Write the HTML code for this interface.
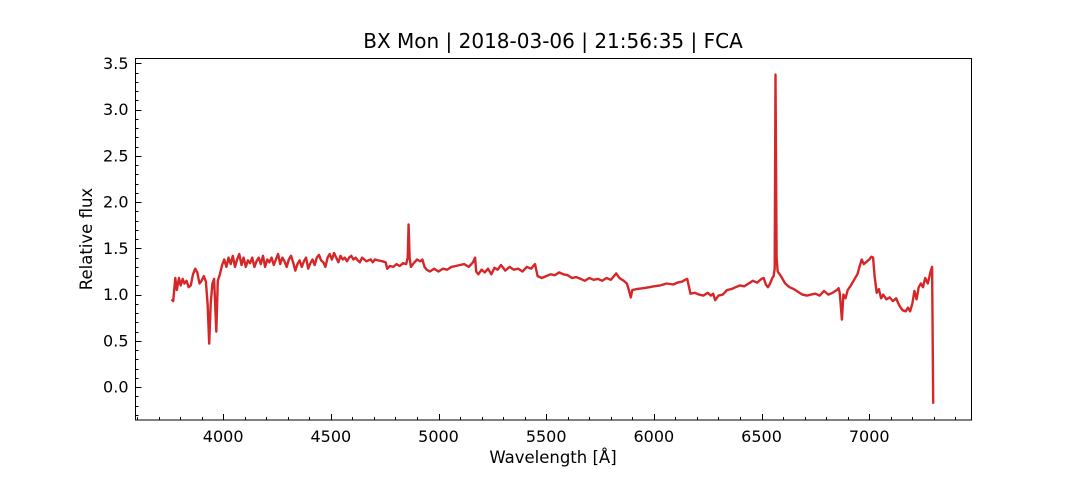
<!DOCTYPE html>
<html><head><meta charset="utf-8"><style>
body{margin:0;background:#fff;}
svg text{font-family:"DejaVu Sans","Liberation Sans",sans-serif;fill:#000;}
</style></head><body>
<svg id="chart" width="1080" height="480" xmlns="http://www.w3.org/2000/svg">
<text x="553" y="48" font-size="20" text-anchor="middle">BX Mon | 2018-03-06 | 21:56:35 | FCA</text>
<text x="553" y="463" font-size="16.5" text-anchor="middle">Wavelength [Å]</text>
<text x="92" y="239" font-size="16.5" text-anchor="middle" transform="rotate(-90 92 239)">Relative flux</text>
<g id="ticks"></g>
<path id="spec" fill="none" stroke="#d62728" stroke-width="2.4" stroke-linejoin="round"/>
<rect x="135.5" y="58.5" width="836" height="361.5" fill="none" stroke="#000" stroke-width="1"/>
</svg>
<script>
const wavelengths=[3760,3768,3778,3785,3795,3803,3812,3820,3830,3840,3850,3860,3870,3880,3890,3900,3910,3920,3928,3935,3942,3950,3958,3968,3975,3985,3995,4005,4015,4025,4035,4045,4055,4065,4075,4085,4095,4105,4115,4125,4135,4145,4155,4165,4175,4185,4195,4205,4215,4225,4235,4245,4255,4265,4275,4285,4295,4305,4315,4325,4335,4345,4355,4365,4375,4385,4395,4405,4415,4425,4435,4445,4455,4465,4475,4485,4495,4505,4515,4525,4535,4545,4555,4565,4575,4585,4595,4605,4615,4625,4635,4645,4655,4665,4675,4685,4695,4705,4720,4740,4755,4762,4775,4790,4805,4820,4835,4850,4857,4861,4866,4872,4885,4900,4915,4925,4935,4945,4960,4980,5000,5020,5040,5060,5080,5100,5120,5140,5160,5170,5175,5185,5200,5215,5230,5245,5260,5275,5290,5310,5330,5350,5370,5390,5410,5430,5440,5448,5460,5480,5500,5520,5540,5560,5580,5600,5620,5640,5660,5680,5700,5720,5740,5760,5780,5800,5815,5825,5840,5860,5875,5885,5893,5900,5920,5950,5980,6000,6030,6060,6090,6110,6130,6145,6155,6170,6190,6210,6230,6250,6265,6275,6285,6300,6320,6340,6360,6380,6400,6420,6440,6460,6480,6500,6510,6520,6530,6540,6550,6556,6561,6565,6570,6575,6590,6610,6630,6650,6670,6690,6710,6730,6750,6770,6790,6810,6830,6850,6858,6863,6868,6873,6880,6890,6900,6915,6930,6945,6955,6965,6975,6990,7000,7010,7018,7025,7035,7045,7055,7065,7080,7095,7110,7125,7140,7155,7170,7180,7190,7200,7210,7220,7230,7240,7250,7260,7272,7285,7292,7297,7301];
const fluxes=[0.95,0.93,1.18,1.05,1.18,1.10,1.17,1.12,1.15,1.08,1.10,1.22,1.28,1.24,1.12,1.15,1.20,1.14,0.90,0.47,0.90,1.12,1.17,0.60,1.15,1.22,1.32,1.38,1.30,1.40,1.33,1.42,1.30,1.38,1.44,1.32,1.40,1.30,1.37,1.34,1.40,1.30,1.36,1.40,1.33,1.42,1.30,1.38,1.35,1.40,1.32,1.38,1.44,1.33,1.40,1.36,1.30,1.38,1.42,1.35,1.26,1.33,1.37,1.30,1.36,1.40,1.28,1.34,1.38,1.32,1.40,1.43,1.37,1.35,1.30,1.40,1.44,1.38,1.45,1.40,1.35,1.42,1.38,1.40,1.36,1.40,1.42,1.38,1.40,1.37,1.35,1.40,1.38,1.36,1.37,1.38,1.35,1.38,1.37,1.36,1.35,1.28,1.31,1.30,1.33,1.31,1.34,1.33,1.40,1.76,1.40,1.30,1.34,1.38,1.36,1.38,1.30,1.27,1.25,1.28,1.25,1.28,1.27,1.30,1.31,1.32,1.33,1.30,1.35,1.40,1.25,1.22,1.27,1.24,1.28,1.22,1.29,1.27,1.32,1.26,1.30,1.27,1.28,1.25,1.30,1.28,1.31,1.33,1.20,1.18,1.20,1.22,1.21,1.24,1.22,1.21,1.18,1.19,1.17,1.15,1.18,1.16,1.17,1.15,1.18,1.16,1.20,1.23,1.18,1.15,1.12,1.04,0.97,1.05,1.06,1.07,1.08,1.09,1.10,1.12,1.11,1.13,1.14,1.16,1.17,1.01,1.02,1.00,0.99,1.02,0.99,1.01,0.94,0.99,1.00,1.05,1.06,1.08,1.10,1.09,1.12,1.15,1.13,1.17,1.18,1.11,1.08,1.12,1.18,1.20,1.28,3.38,1.40,1.25,1.20,1.12,1.08,1.06,1.03,1.00,0.99,1.00,1.01,0.99,1.04,1.00,1.02,1.05,1.07,1.02,0.88,0.73,1.00,0.96,1.05,1.10,1.16,1.22,1.30,1.38,1.33,1.36,1.38,1.41,1.40,1.20,1.02,1.06,0.96,1.00,0.95,0.97,0.93,0.96,0.88,0.83,0.82,0.86,0.82,0.90,1.04,0.95,1.08,1.12,1.08,1.18,1.12,1.25,1.30,-0.18];
const xTicks=[4000,4500,5000,5500,6000,6500,7000];
const yTicks=[0.0,0.5,1.0,1.5,2.0,2.5,3.0,3.5];
const X0=135.5,X1=971.5,Y0=58.5,Y1=420;
const xMin=3593,xMax=7475,yMin=-0.356,yMax=3.554;
const sx=v=>X0+(v-xMin)/(xMax-xMin)*(X1-X0);
const sy=v=>Y1-(v-yMin)/(yMax-yMin)*(Y1-Y0);
const NS="http://www.w3.org/2000/svg";
const g=document.getElementById('ticks');
function line(x1,y1,x2,y2){const l=document.createElementNS(NS,'line');


l.setAttribute('x1',x1);l.setAttribute('y1',y1);l.setAttribute('x2',x2);l.setAttribute('y2',y2);l.setAttribute('stroke','#000');l.setAttribute('stroke-width','1');g.appendChild(l);}
function txt(x,y,s,anchor){const t=document.createElementNS(NS,'text');


t.setAttribute('x',x);t.setAttribute('y',y);t.setAttribute('font-size','16');t.setAttribute('text-anchor',anchor);t.textContent=s;g.appendChild(t);}
for(let w=3600;w<=7400;w+=100){const x=Math.round(sx(w))+0.5;line(x,Y1,x,Y1-(w%500===0?6:3));}
xTicks.forEach(w=>txt(sx(w),Y1+22,String(w),'middle'));
for(let k=-3;k<=35;k++){const v=k/10;const y=Math.round(sy(v))+0.5;line(X0,y,X0+(k%5===0?6:3),y);}
yTicks.forEach(v=>txt(X0-7,sy(v)+5.5,v.toFixed(1),'end'));
document.getElementById('spec').setAttribute('d',wavelengths.map((w,i)=>(i?'L':'M')+sx(w).toFixed(1)+' '+sy(fluxes[i]).toFixed(1)).join(''));
</script>
</body></html>
